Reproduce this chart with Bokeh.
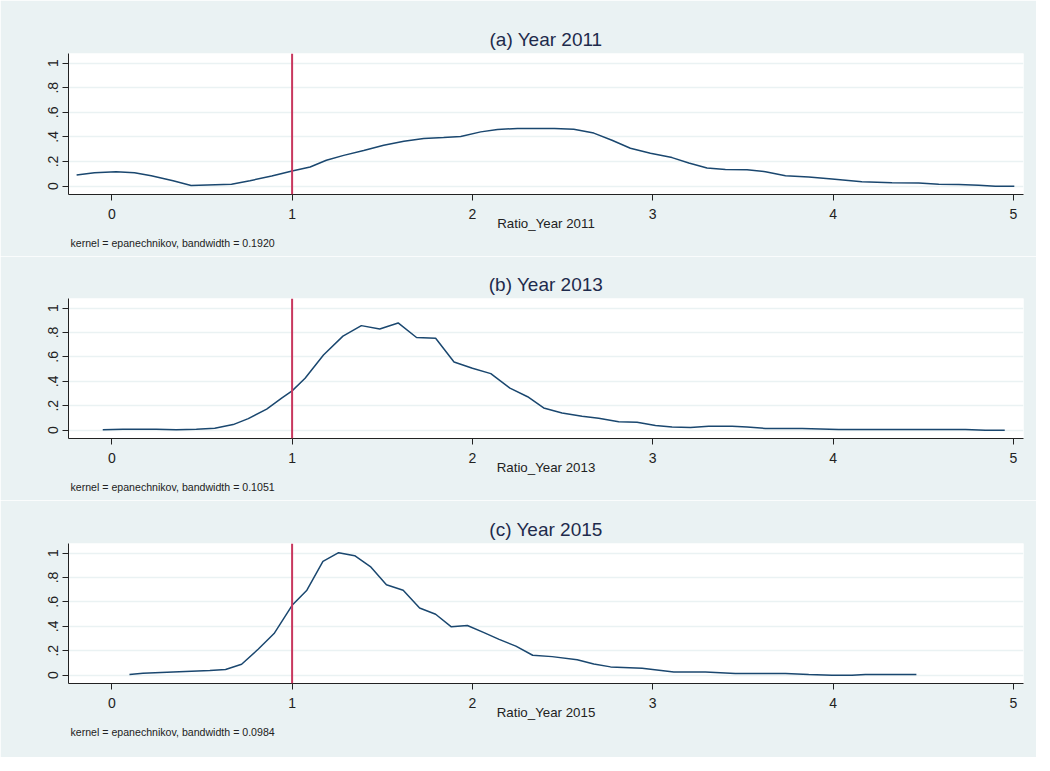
from bokeh.plotting import figure
from bokeh.models import Span, Title, FixedTicker
from bokeh.layouts import column
from bokeh.embed import file_html
from bokeh.resources import INLINE

# ---- data (kernel density estimates) ----
xa = [-0.195, -0.096, 0.024, 0.126, 0.219, 0.34, 0.44, 0.664, 0.766, 0.887, 1.0, 1.1, 1.19, 1.286,
      1.397, 1.508, 1.62, 1.73, 1.84, 1.935, 2.046, 2.139, 2.25, 2.35, 2.455, 2.562, 2.673, 2.774,
      2.876, 2.987, 3.107, 3.2, 3.301, 3.403, 3.523, 3.625, 3.736, 3.865, 3.994, 4.16, 4.327, 4.475,
      4.586, 4.697, 4.808, 4.9, 5.005]
ya = [0.09, 0.109, 0.117, 0.109, 0.085, 0.044, 0.005, 0.016, 0.044, 0.082, 0.123, 0.155, 0.21, 0.25,
      0.29, 0.332, 0.365, 0.387, 0.395, 0.403, 0.441, 0.46, 0.469, 0.469, 0.468, 0.463, 0.431, 0.373,
      0.308, 0.267, 0.232, 0.188, 0.147, 0.136, 0.134, 0.117, 0.084, 0.074, 0.057, 0.035, 0.027, 0.025,
      0.016, 0.014, 0.008, 0.0, 0.0]

xb = [-0.05, 0.061, 0.247, 0.358, 0.469, 0.571, 0.673, 0.757, 0.859, 0.942, 1.0, 1.072, 1.174, 1.282,
      1.384, 1.486, 1.588, 1.69, 1.796, 1.898, 2.0, 2.102, 2.208, 2.306, 2.395, 2.497, 2.608, 2.7,
      2.811, 2.913, 3.015, 3.107, 3.209, 3.31, 3.44, 3.523, 3.625, 3.828, 4.031, 4.734, 4.845, 4.952]
yb = [0.003, 0.008, 0.008, 0.003, 0.008, 0.016, 0.046, 0.095, 0.173, 0.263, 0.322, 0.425, 0.615, 0.77,
      0.856, 0.829, 0.878, 0.759, 0.753, 0.558, 0.507, 0.463, 0.344, 0.274, 0.182, 0.141, 0.114, 0.098,
      0.07, 0.065, 0.038, 0.027, 0.022, 0.033, 0.033, 0.027, 0.014, 0.014, 0.005, 0.005, 0.0, 0.0]

xc = [0.098, 0.173, 0.34, 0.544, 0.631, 0.72, 0.813, 0.9, 1.0, 1.082, 1.171, 1.258, 1.347, 1.434,
      1.523, 1.616, 1.707, 1.796, 1.883, 1.972, 2.061, 2.148, 2.241, 2.334, 2.442, 2.581, 2.673, 2.766,
      2.941, 3.117, 3.292, 3.458, 3.736, 3.865, 3.994, 4.105, 4.179, 4.462]
yc = [0.005, 0.016, 0.027, 0.038, 0.046, 0.089, 0.214, 0.341, 0.572, 0.696, 0.932, 1.003, 0.978, 0.889,
      0.74, 0.696, 0.55, 0.499, 0.396, 0.407, 0.35, 0.293, 0.238, 0.163, 0.152, 0.127, 0.092, 0.068,
      0.057, 0.027, 0.027, 0.014, 0.014, 0.005, 0.0, 0.0, 0.005, 0.005]

titles = ["(a) Year 2011", "(b) Year 2013", "(c) Year 2015"]
xlabels = ["Ratio_Year 2011", "Ratio_Year 2013", "Ratio_Year 2015"]
notes = ["kernel = epanechnikov, bandwidth = 0.1920",
         "kernel = epanechnikov, bandwidth = 0.1051",
         "kernel = epanechnikov, bandwidth = 0.0984"]
x_ticks = [0, 1, 2, 3, 4, 5]
y_ticks = [0, 0.2, 0.4, 0.6, 0.8, 1.0]
y_tick_labels = ["0", ".2", ".4", ".6", ".8", "1"]
ref_x = 1.0

X0, X1 = -0.24, 5.056
Y0, Y1 = -0.068, 1.078

BG = "#EAF2F3"
LINE = "#1A476F"
RED = "#C8375E"
FONT = "Liberation Sans"
TXT = "#222222"


def make_panel(xs, ys, title, xlabel, note, top, frame_h, bottom):
    p = figure(width=1036, height=top + frame_h + bottom, output_backend="svg",
               toolbar_location=None, x_range=(X0, X1), y_range=(Y0, Y1),
               min_border_left=68, min_border_right=13, min_border_top=top,
               min_border_bottom=bottom)
    p.border_fill_color = BG
    p.background_fill_color = "white"
    p.outline_line_color = None

    p.title.text = title
    p.title.align = "center"
    p.title.text_font = FONT
    p.title.text_font_size = "19px"
    p.title.text_font_style = "normal"
    p.title.text_color = "#1E2B4C"
    p.title.standoff = 7

    p.add_layout(Title(text=note, align="left", text_font=FONT, text_font_size="10.6px",
                       text_font_style="normal", text_color=TXT, standoff=2, offset=2), "below")

    p.line(xs, ys, line_color=LINE, line_width=1.5)
    p.add_layout(Span(location=ref_x, dimension="height", line_color=RED, line_width=2))

    # x axis
    p.xaxis.ticker = FixedTicker(ticks=x_ticks)
    p.xaxis.axis_label = xlabel
    p.xaxis.axis_label_text_font = FONT
    p.xaxis.axis_label_text_font_size = "13.3px"
    p.xaxis.axis_label_text_font_style = "normal"
    p.xaxis.axis_label_text_color = TXT
    p.xaxis.axis_label_standoff = -6
    p.xaxis.major_label_text_font = FONT
    p.xaxis.major_label_text_font_size = "14px"
    p.xaxis.major_label_text_color = TXT
    p.xaxis.major_label_standoff = 8
    p.xaxis.major_tick_out = 6
    p.xaxis.major_tick_in = 0
    p.xaxis.minor_tick_line_color = None
    p.xaxis.axis_line_color = "#222222"
    p.xaxis.major_tick_line_color = "#222222"

    # y axis
    p.yaxis.ticker = FixedTicker(ticks=y_ticks)
    p.yaxis.major_label_overrides = {t: l for t, l in zip(y_ticks, y_tick_labels)}
    p.yaxis.major_label_orientation = "vertical"
    p.yaxis.major_label_text_font = FONT
    p.yaxis.major_label_text_font_size = "14px"
    p.yaxis.major_label_text_color = TXT
    p.yaxis.major_label_standoff = 4
    p.yaxis.major_tick_out = 6
    p.yaxis.major_tick_in = 0
    p.yaxis.minor_tick_line_color = None
    p.yaxis.axis_line_color = "#222222"
    p.yaxis.major_tick_line_color = "#222222"

    p.xgrid.grid_line_color = None
    p.ygrid.grid_line_color = BG
    p.ygrid.grid_line_width = 1.5
    return p


p1 = make_panel(xa, ya, titles[0], xlabels[0], notes[0], 53, 141, 62)
p2 = make_panel(xb, yb, titles[1], xlabels[1], notes[1], 42, 140, 62)
p3 = make_panel(xc, yc, titles[2], xlabels[2], notes[2], 43, 140, 74)

layout = column(p1, p2, p3, spacing=0)
open("out.html", "w").write(file_html(layout, INLINE))
